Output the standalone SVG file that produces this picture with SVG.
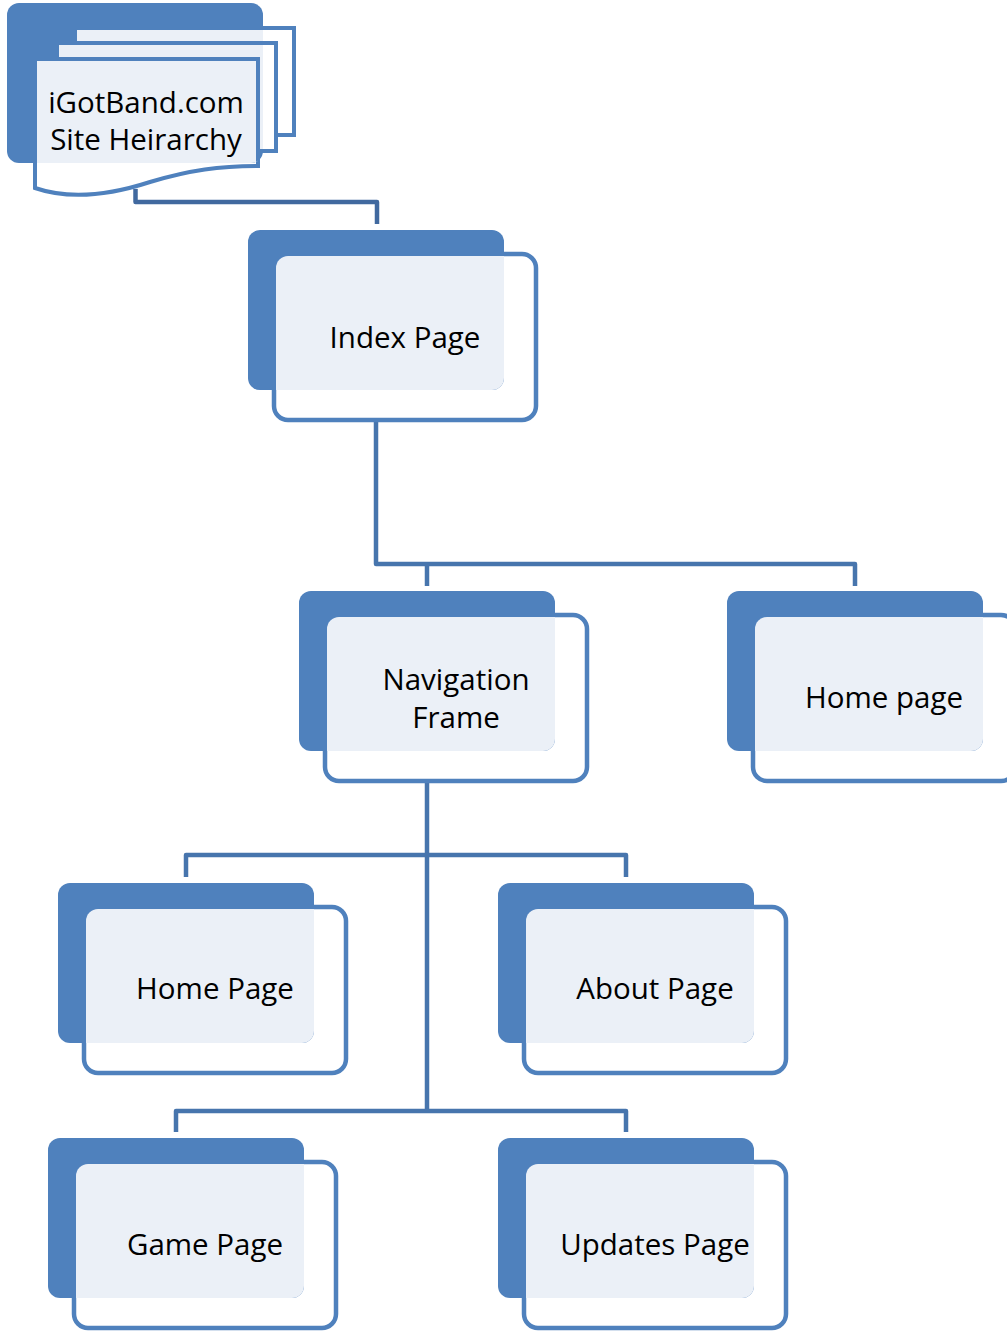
<svg xmlns="http://www.w3.org/2000/svg" width="1007" height="1331" viewBox="0 0 1007 1331">
<style>
.back{fill:#4f81bd}
.front{fill:#ffffff;stroke:#4f81bd;stroke-width:4.5}
.light{fill:#ebf0f7}
.page{fill:#ffffff;stroke:#4f81bd;stroke-width:4}
.lpage{fill:#ebf0f7;stroke:#4f81bd;stroke-width:4}
.conn{fill:none;stroke:#4775ad;stroke-width:4.5;stroke-linejoin:round}
.pale{fill:none;stroke:#e2e9f3;stroke-width:4.5}
text{font-family:"Open Sans","Liberation Sans",sans-serif;font-size:29.5px;fill:#000;text-anchor:middle}
</style>
<defs>
<clipPath id="titleClip"><rect x="7" y="3" width="256" height="160" rx="12"/></clipPath>
</defs>
<g id="connectors">
<line class="pale" x1="135.5" y1="168" x2="135.5" y2="190"/>
<polyline class="conn" points="135.5,189 135.5,202 377,202 377,224" style="stroke:#41699f"/>
<line class="pale" x1="376" y1="395" x2="376" y2="420"/>
<polyline class="conn" points="376,420 376,564 855,564 855,586"/>
<line class="conn" x1="427" y1="564" x2="427" y2="586"/>
<line class="pale" x1="427" y1="756" x2="427" y2="782"/>
<line class="conn" x1="427" y1="782" x2="427" y2="1111"/>
<polyline class="conn" points="186,877 186,855 626,855 626,877"/>
<polyline class="conn" points="176,1132 176,1111 626,1111 626,1132"/>
</g>
<g id="title">
<rect class="page" x="75" y="28" width="219" height="107"/>
<rect class="page" x="57" y="43" width="219" height="108"/>
<path class="page" d="M35,59 H258 V166 C220,166 190,170 150,182 C110,195 70,200 35,188 Z"/>
<rect class="back" x="7" y="3" width="256" height="160" rx="12"/>
<g clip-path="url(#titleClip)">
<rect class="lpage" x="75" y="28" width="219" height="107"/>
<rect class="lpage" x="57" y="43" width="219" height="108"/>
<path class="lpage" d="M35,59 H258 V166 C220,166 190,170 150,182 C110,195 70,200 35,188 Z"/>
</g>
<text x="146" y="113">iGotBand.com</text>
<text x="146" y="150">Site Heirarchy</text>
</g>
<g id="index">
<rect class="front" x="274" y="254" width="262" height="166" rx="14"/>
<rect class="back" x="248" y="230" width="256" height="160" rx="12"/>
<path class="light" d="M276,268 A12,12 0 0 1 288,256 H504 V378 A12,12 0 0 1 492,390 H276 Z"/>
<text x="405" y="348">Index Page</text>
</g>
<g id="navigation">
<rect class="front" x="325" y="615" width="262" height="166" rx="14"/>
<rect class="back" x="299" y="591" width="256" height="160" rx="12"/>
<path class="light" d="M327,629 A12,12 0 0 1 339,617 H555 V739 A12,12 0 0 1 543,751 H327 Z"/>
<text x="456" y="690">Navigation</text>
<text x="456" y="728">Frame</text>
</g>
<g id="homepage-right">
<rect class="front" x="753" y="615" width="262" height="166" rx="14"/>
<rect class="back" x="727" y="591" width="256" height="160" rx="12"/>
<path class="light" d="M755,629 A12,12 0 0 1 767,617 H983 V739 A12,12 0 0 1 971,751 H755 Z"/>
<text x="884" y="708">Home page</text>
</g>
<g id="homepage">
<rect class="front" x="84" y="907" width="262" height="166" rx="14"/>
<rect class="back" x="58" y="883" width="256" height="160" rx="12"/>
<path class="light" d="M86,921 A12,12 0 0 1 98,909 H314 V1031 A12,12 0 0 1 302,1043 H86 Z"/>
<text x="215" y="999">Home Page</text>
</g>
<g id="about">
<rect class="front" x="524" y="907" width="262" height="166" rx="14"/>
<rect class="back" x="498" y="883" width="256" height="160" rx="12"/>
<path class="light" d="M526,921 A12,12 0 0 1 538,909 H754 V1031 A12,12 0 0 1 742,1043 H526 Z"/>
<text x="655" y="999">About Page</text>
</g>
<g id="game">
<rect class="front" x="74" y="1162" width="262" height="166" rx="14"/>
<rect class="back" x="48" y="1138" width="256" height="160" rx="12"/>
<path class="light" d="M76,1176 A12,12 0 0 1 88,1164 H304 V1286 A12,12 0 0 1 292,1298 H76 Z"/>
<text x="205" y="1255">Game Page</text>
</g>
<g id="updates">
<rect class="front" x="524" y="1162" width="262" height="166" rx="14"/>
<rect class="back" x="498" y="1138" width="256" height="160" rx="12"/>
<path class="light" d="M526,1176 A12,12 0 0 1 538,1164 H754 V1286 A12,12 0 0 1 742,1298 H526 Z"/>
<text x="655" y="1255">Updates Page</text>
</g>
</svg>
